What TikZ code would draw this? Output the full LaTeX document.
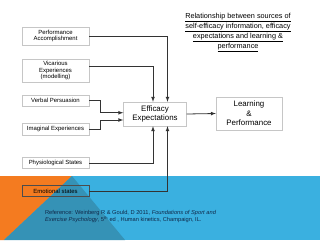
\documentclass[tikz,border=0pt]{standalone}
\usepackage{fontspec}
\setmainfont{Liberation Sans}
\definecolor{bandblue}{HTML}{3AB0E0}
\definecolor{bandorange}{HTML}{F47B20}
\definecolor{bandteal}{HTML}{3592B6}
\definecolor{refnavy}{HTML}{10294A}
\tikzset{
  srcbox/.style={draw=gray!45, line width=0.5pt, minimum width=2.68cm, inner sep=1pt, font=\fontsize{6.8}{7.8}\selectfont},
  bigbox/.style={draw=gray!45, line width=0.5pt, inner sep=1pt, font=\fontsize{9}{10.8}\selectfont},
  flow/.style={-latex, line width=0.9pt, draw=black!80}
}
\begin{document}
\begin{tikzpicture}[x=0.04cm, y=-0.04cm, every node/.style={align=center}]
  \useasboundingbox (0,0) rectangle (320,240);

  % Bottom band
  \fill[bandblue] (0,176) rectangle (320,240);
  \fill[bandorange] (0,176) -- (72,176) -- (4,240) -- (0,240) -- cycle;
  \fill[bandteal] (72,176) -- (125,240) -- (4,240) -- cycle;

  % Title
  \node[font=\fontsize{8.3}{11.2}\selectfont] (title) at (238,32.5) {\underline{Relationship between sources of}\\\underline{self-efficacy information, efficacy}\\\underline{expectations and learning \&}\\\underline{performance}};

  % Sources of efficacy information
  \node[srcbox, minimum height=0.72cm] (perf) at (55.5,36) {Performance\\Accomplishment};
  \node[srcbox, minimum height=0.92cm] (vic) at (55.5,70.5) {Vicarious\\Experiences\\(modelling)};
  \node[srcbox, minimum height=0.44cm] (verbal) at (55.5,100.5) {Verbal Persuasion};
  \node[srcbox, minimum height=0.48cm] (imag) at (55.5,129) {Imaginal Experiences};
  \node[srcbox, minimum height=0.44cm] (phys) at (55.5,163) {Physiological States};
  \node[srcbox, draw=black!70, minimum height=0.44cm] (emot) at (55.5,191) {Emotional states};

  % Expectations and outcome
  \node[bigbox, minimum width=2.52cm, minimum height=0.96cm] (eff) at (155,114) {Efficacy\\Expectations};
  \node[bigbox, minimum width=2.64cm, minimum height=1.32cm] (learn) at (249,113.5) {Learning\\\&\\Performance};

  % Arrows
  \draw[flow] (perf.east) -| ([xshift=0.5cm]eff.north);
  \draw[flow] ([yshift=0.18cm]vic.east) -| ([xshift=-0.08cm]eff.north);
  \draw[flow] (verbal.east) -- ++(0.44cm,0) |- ([yshift=0.05cm]eff.west);
  \draw[flow] (imag.east) -- ++(0.44cm,0) |- ([yshift=-0.24cm]eff.west);
  \draw[flow] (phys.east) -| ([xshift=-0.08cm]eff.south);
  \draw[flow] (emot.east) -| ([xshift=0.5cm]eff.south);
  \draw[flow] (eff.east) -- (learn.west);

  % Reference
  \node[anchor=north west, align=left, text=refnavy, font=\fontsize{6.5}{8.8}\selectfont] (ref) at (42,207) {Reference: Weinberg R \& Gould, D 2011, \textit{Foundations of Sport and}\\\textit{Exercise Psychology}, 5\textsuperscript{th} ed , Human kinetics, Champaign, IL.};
\end{tikzpicture}
\end{document}
